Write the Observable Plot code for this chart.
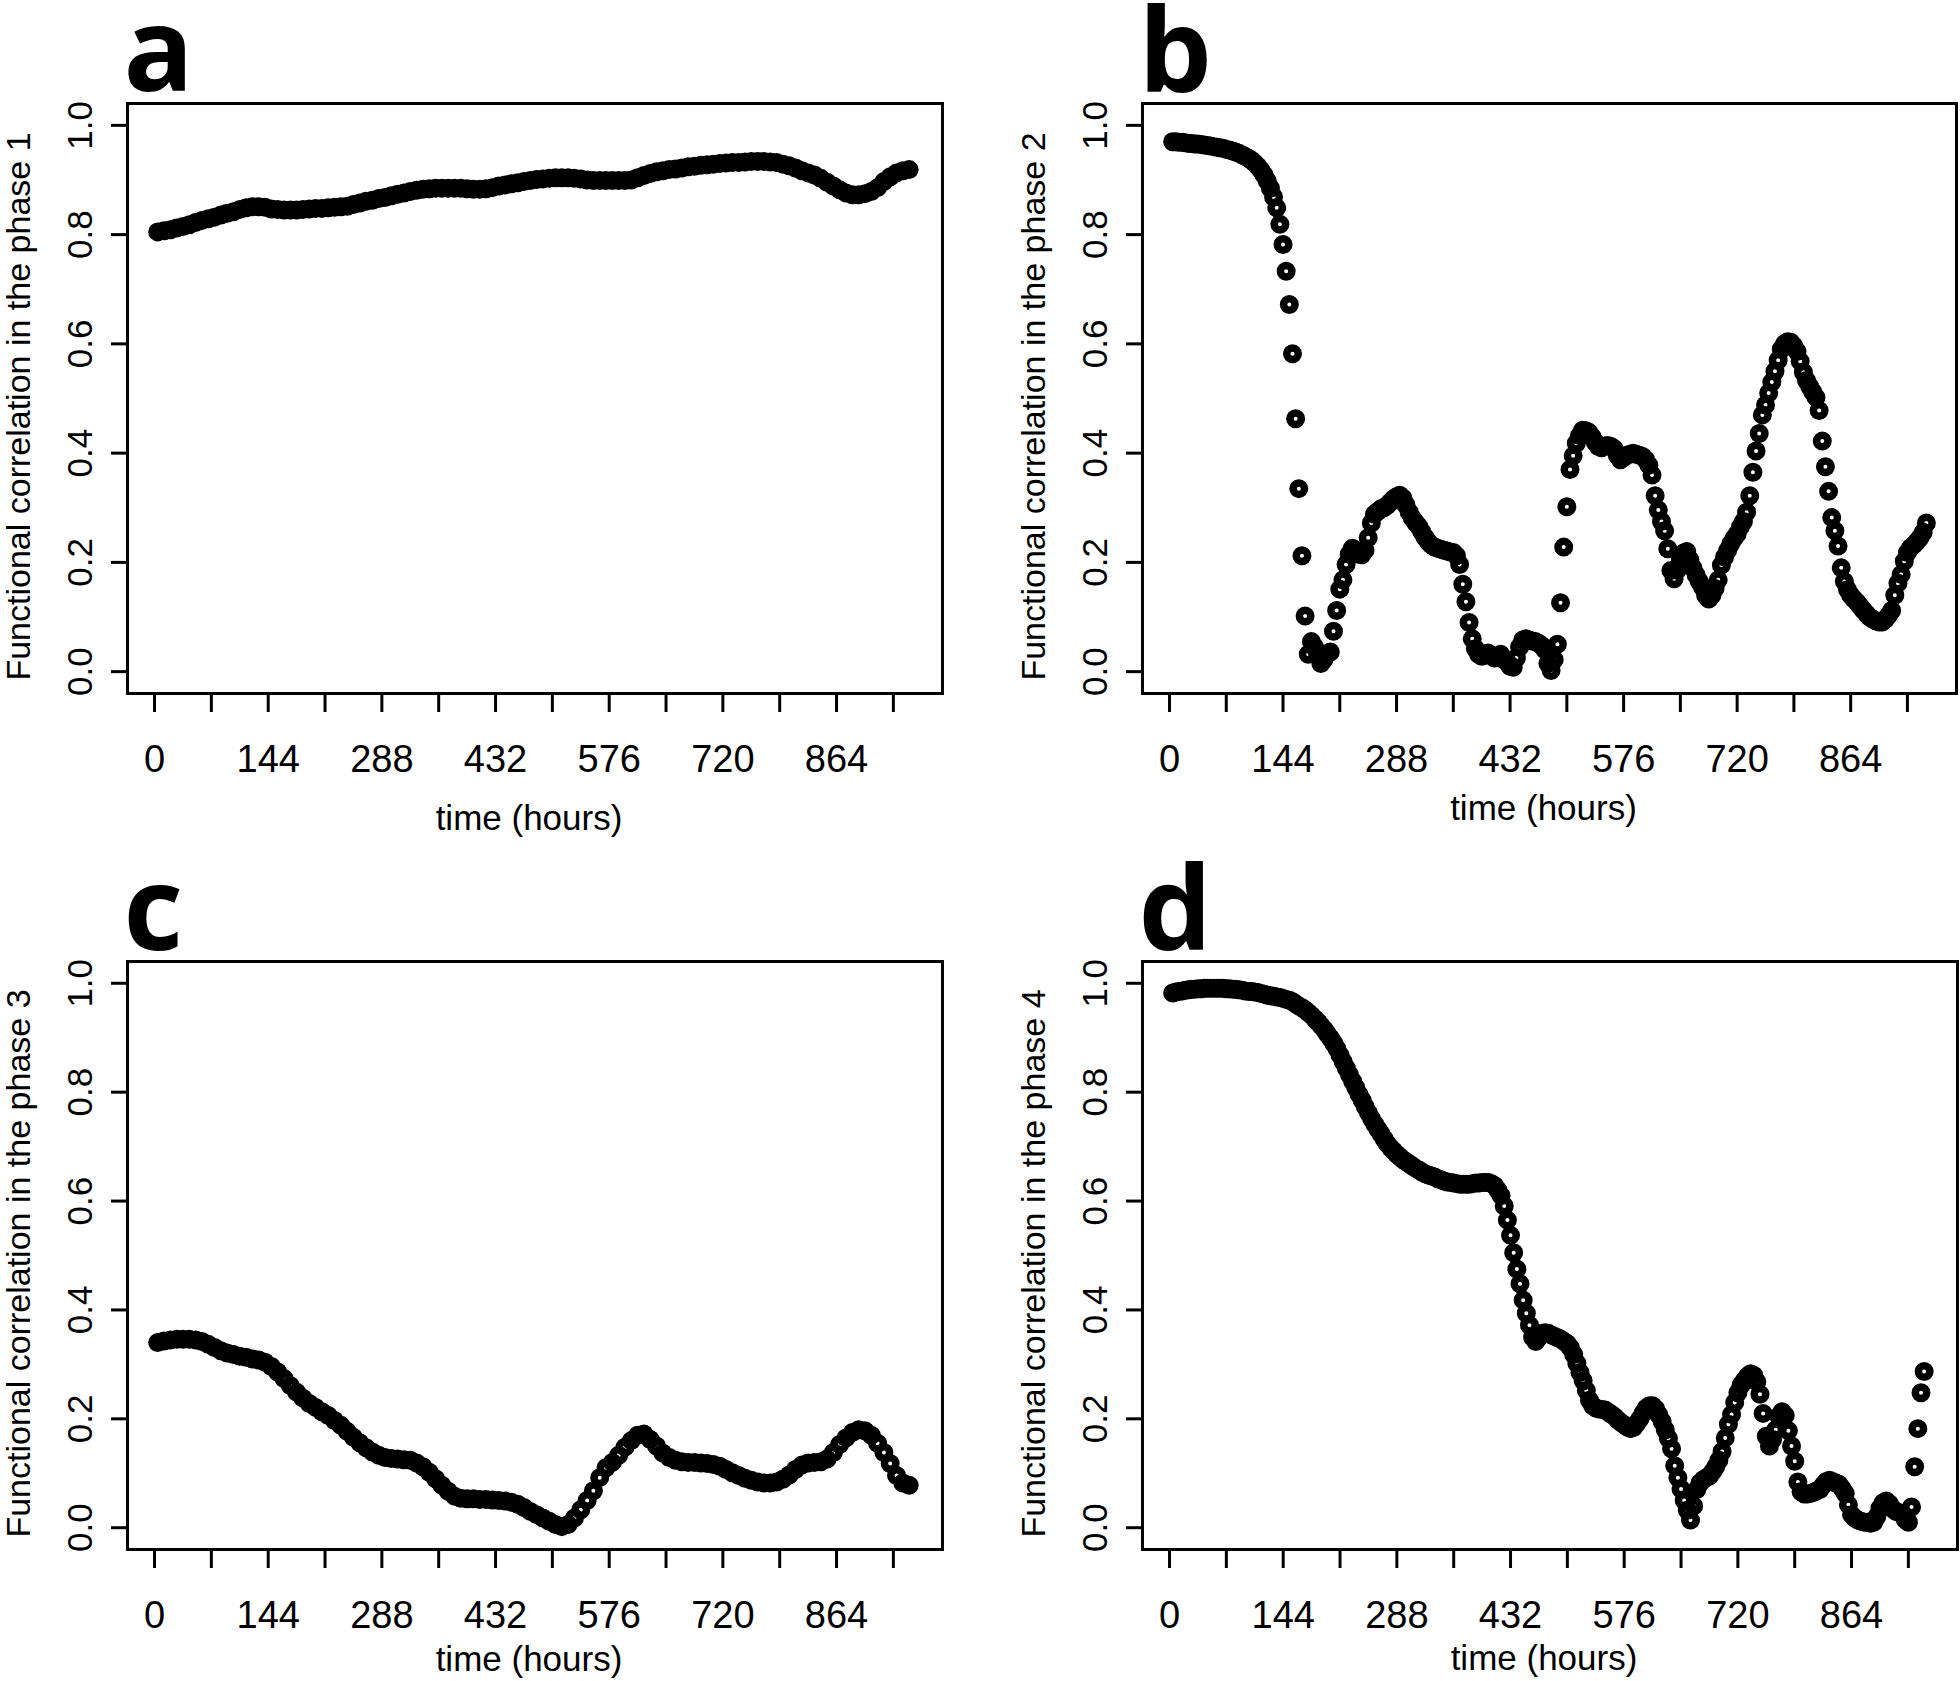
<!DOCTYPE html>
<html><head><meta charset="utf-8">
<script src="https://cdn.jsdelivr.net/npm/d3@7"></script>
<script src="https://cdn.jsdelivr.net/npm/@observablehq/plot@0.6"></script>
<style>
body{margin:0;background:#fff;}
#wrap{position:relative;width:1960px;height:1681px;overflow:hidden;background:#fff;}
.panel{position:absolute;}
</style></head><body><div id="wrap"></div>
<script>
// sampling times (hours)
const timeFine = d3.range(4, 961, 4);    // every 4 h
const timeCoarse = d3.range(4, 957, 8);  // every 8 h

const phase1 = [0.805,0.807,0.809,0.812,0.815,0.818,0.822,0.826,0.829,0.832,0.836,0.839,0.842,0.846,0.849,0.851,0.851,0.850,0.847,0.846,
0.845,0.845,0.845,0.846,0.847,0.848,0.848,0.849,0.850,0.851,0.852,0.855,0.858,0.861,0.863,0.866,0.868,0.871,0.874,0.876,
0.879,0.881,0.883,0.884,0.885,0.885,0.885,0.885,0.885,0.884,0.883,0.883,0.884,0.886,0.889,0.891,0.893,0.895,0.897,0.899,
0.901,0.902,0.903,0.904,0.904,0.904,0.903,0.902,0.900,0.899,0.899,0.899,0.899,0.899,0.899,0.900,0.904,0.908,0.912,0.915,
0.917,0.919,0.920,0.922,0.924,0.925,0.927,0.928,0.929,0.930,0.931,0.932,0.932,0.933,0.934,0.934,0.934,0.933,0.932,0.929,
0.926,0.922,0.917,0.913,0.909,0.903,0.896,0.889,0.882,0.876,0.873,0.873,0.875,0.879,0.886,0.897,0.906,0.913,0.917,0.919];

const phase2 = [0.970,0.970,0.969,0.969,0.968,0.967,0.967,0.966,0.966,0.965,0.964,0.963,0.962,0.961,0.960,0.959,0.958,0.956,0.955,0.953,
0.951,0.949,0.946,0.943,0.940,0.936,0.931,0.925,0.918,0.909,0.898,0.885,0.869,0.849,0.819,0.782,0.733,0.672,0.582,0.463,
0.335,0.212,0.102,0.032,0.055,0.045,0.030,0.015,0.022,0.033,0.036,0.074,0.112,0.151,0.168,0.196,0.215,0.226,0.222,0.215,
0.214,0.222,0.245,0.272,0.288,0.293,0.298,0.300,0.304,0.310,0.316,0.320,0.323,0.318,0.305,0.292,0.281,0.273,0.266,0.256,
0.246,0.238,0.232,0.228,0.226,0.224,0.222,0.221,0.219,0.218,0.212,0.196,0.160,0.128,0.090,0.060,0.042,0.032,0.028,0.030,
0.034,0.030,0.025,0.028,0.032,0.022,0.018,0.010,0.008,0.025,0.045,0.058,0.060,0.058,0.056,0.055,0.052,0.048,0.040,0.015,
0.002,0.022,0.050,0.126,0.228,0.302,0.370,0.395,0.418,0.432,0.442,0.441,0.438,0.430,0.420,0.412,0.410,0.413,0.414,0.412,
0.408,0.396,0.388,0.392,0.396,0.398,0.400,0.398,0.396,0.394,0.388,0.378,0.360,0.322,0.296,0.275,0.258,0.225,0.185,0.170,
0.186,0.205,0.217,0.220,0.205,0.190,0.177,0.165,0.155,0.140,0.133,0.140,0.152,0.168,0.195,0.210,0.222,0.234,0.244,0.252,
0.265,0.275,0.292,0.322,0.365,0.404,0.436,0.470,0.488,0.510,0.530,0.550,0.570,0.590,0.600,0.604,0.603,0.596,0.586,0.568,
0.548,0.533,0.522,0.512,0.502,0.478,0.422,0.375,0.330,0.282,0.258,0.230,0.190,0.165,0.150,0.140,0.133,0.127,0.120,0.113,
0.106,0.100,0.096,0.093,0.091,0.091,0.096,0.103,0.112,0.140,0.162,0.178,0.202,0.218,0.227,0.232,0.238,0.245,0.255,0.272];

const phase3 = [0.340,0.343,0.345,0.346,0.346,0.346,0.345,0.342,0.337,0.331,0.325,0.321,0.318,0.315,0.313,0.310,0.308,0.304,0.296,0.286,
0.274,0.261,0.249,0.238,0.228,0.221,0.213,0.206,0.197,0.188,0.177,0.166,0.156,0.147,0.139,0.133,0.129,0.127,0.126,0.125,
0.124,0.119,0.112,0.102,0.090,0.078,0.067,0.058,0.054,0.053,0.053,0.052,0.052,0.051,0.050,0.049,0.047,0.043,0.037,0.030,
0.024,0.018,0.012,0.006,0.002,0.006,0.018,0.033,0.050,0.068,0.092,0.110,0.120,0.133,0.148,0.160,0.170,0.172,0.162,0.150,
0.137,0.129,0.124,0.121,0.120,0.120,0.119,0.118,0.116,0.113,0.107,0.101,0.096,0.091,0.087,0.084,0.082,0.082,0.084,0.089,
0.097,0.107,0.115,0.119,0.120,0.121,0.126,0.138,0.153,0.165,0.175,0.180,0.178,0.170,0.155,0.138,0.118,0.096,0.082,0.078];

const phase4 = [0.982,0.984,0.985,0.986,0.987,0.988,0.989,0.989,0.990,0.990,0.991,0.991,0.991,0.991,0.991,0.991,0.991,0.990,0.990,0.989,
0.989,0.988,0.987,0.986,0.985,0.985,0.984,0.983,0.981,0.980,0.978,0.977,0.976,0.975,0.974,0.972,0.970,0.969,0.966,0.962,
0.958,0.955,0.951,0.946,0.941,0.935,0.929,0.922,0.915,0.907,0.899,0.890,0.880,0.868,0.856,0.844,0.832,0.820,0.808,0.796,
0.785,0.773,0.762,0.751,0.741,0.732,0.723,0.714,0.705,0.698,0.692,0.686,0.681,0.676,0.672,0.668,0.664,0.660,0.657,0.653,
0.650,0.648,0.646,0.644,0.641,0.639,0.637,0.635,0.634,0.633,0.632,0.631,0.631,0.631,0.631,0.632,0.633,0.633,0.634,0.634,
0.634,0.632,0.628,0.620,0.610,0.591,0.565,0.537,0.505,0.475,0.448,0.418,0.394,0.372,0.350,0.342,0.350,0.357,0.358,0.357,
0.354,0.351,0.349,0.346,0.342,0.338,0.330,0.318,0.302,0.285,0.270,0.252,0.234,0.224,0.220,0.218,0.217,0.216,0.212,0.208,
0.204,0.198,0.193,0.189,0.185,0.182,0.184,0.192,0.200,0.211,0.220,0.224,0.224,0.218,0.207,0.195,0.180,0.164,0.145,0.114,
0.092,0.071,0.050,0.032,0.014,0.040,0.070,0.082,0.088,0.092,0.095,0.103,0.112,0.124,0.140,0.165,0.190,0.208,0.230,0.248,
0.262,0.270,0.278,0.283,0.280,0.268,0.245,0.210,0.168,0.150,0.162,0.180,0.205,0.213,0.206,0.178,0.150,0.122,0.084,0.066,
0.062,0.062,0.063,0.065,0.068,0.070,0.078,0.085,0.087,0.085,0.082,0.080,0.072,0.063,0.042,0.024,0.018,0.014,0.012,0.010,
0.010,0.008,0.010,0.020,0.036,0.046,0.049,0.044,0.035,0.030,0.028,0.025,0.015,0.010,0.038,0.112,0.182,0.248,0.287];

const xTicks = d3.range(0, 937, 72);
const xTickLabels = [0, 144, 288, 432, 576, 720, 864];
const yTicks = [0, 0.2, 0.4, 0.6, 0.8, 1.0];
const xTitle = "time (hours)";

const panels = [
  {letter: "a", values: phase1, times: timeCoarse, ylabel: "Functional correlation in the phase 1",
   left: 0, top: 0, height: 840, ml: 127, mr: 38, mt: 103, mb: 147, letterDy: -13, titleDy: 136},
  {letter: "b", values: phase2, times: timeFine, ylabel: "Functional correlation in the phase 2",
   left: 980, top: 0, height: 840, ml: 162, mr: 4, mt: 103, mb: 147, letterDy: -12, titleDy: 126},
  {letter: "c", values: phase3, times: timeCoarse, ylabel: "Functional correlation in the phase 3",
   left: 0, top: 840, height: 841, ml: 127, mr: 38, mt: 121, mb: 132, letterDy: -12, titleDy: 121},
  {letter: "d", values: phase4, times: timeFine, ylabel: "Functional correlation in the phase 4",
   left: 980, top: 840, height: 841, ml: 162, mr: 3, mt: 121, mb: 132, letterDy: -12, titleDy: 120}
];

const wrap = document.getElementById("wrap");
for (const p of panels) {
  const data = p.values.map((v, i) => ({t: p.times[i], v}));
  const chart = Plot.plot({
    width: 980, height: p.height,
    marginTop: p.mt, marginBottom: p.mb, marginLeft: p.ml, marginRight: p.mr,
    style: {fontFamily: "'Liberation Sans', Arial, sans-serif", background: "transparent", color: "black", overflow: "visible"},
    x: {domain: [-34.24, 998.24]},
    y: {domain: [-0.04, 1.04]},
    marks: [
      Plot.axisX({ticks: xTicks, tickSize: 19, tickFormat: () => "", label: null, strokeWidth: 3, anchor: "bottom"}),
      Plot.axisY({ticks: yTicks, tickSize: 16, tickFormat: () => "", label: null, strokeWidth: 3, anchor: "left"}),
      Plot.text(xTickLabels, {x: d => d, text: d => String(d), frameAnchor: "bottom", dy: 78,
        lineAnchor: "bottom", textAnchor: "middle", fontSize: 38, fill: "black"}),
      Plot.text(yTicks, {y: d => d, text: d => d.toFixed(1), frameAnchor: "left", rotate: -90, dx: -36,
        lineAnchor: "bottom", textAnchor: "middle", fontSize: 35, fill: "black"}),
      Plot.text([xTitle], {frameAnchor: "bottom", dx: -6, dy: p.titleDy, lineAnchor: "bottom", textAnchor: "middle",
        fontSize: 35, fill: "black"}),
      Plot.text([p.ylabel], {frameAnchor: "left", rotate: -90, dx: -98, dy: 8, lineAnchor: "bottom", textAnchor: "middle",
        fontSize: 34, fill: "black"}),
      Plot.text([p.letter], {frameAnchor: "top-left", dx: -4, dy: p.letterDy, lineAnchor: "bottom",
        textAnchor: "start", fontSize: 116, fontWeight: 700, fontFamily: "'Open Sans', 'DejaVu Sans', sans-serif", fill: "black"}),
      Plot.dot(data, {x: "t", y: "v", r: 5.75, stroke: "black", strokeWidth: 7.5, fill: "none"}),
      Plot.frame({stroke: "black", strokeWidth: 3})
    ]
  });
  const div = document.createElement("div");
  div.className = "panel";
  div.style.left = p.left + "px";
  div.style.top = p.top + "px";
  div.appendChild(chart);
  wrap.appendChild(div);
}
</script></body></html>
